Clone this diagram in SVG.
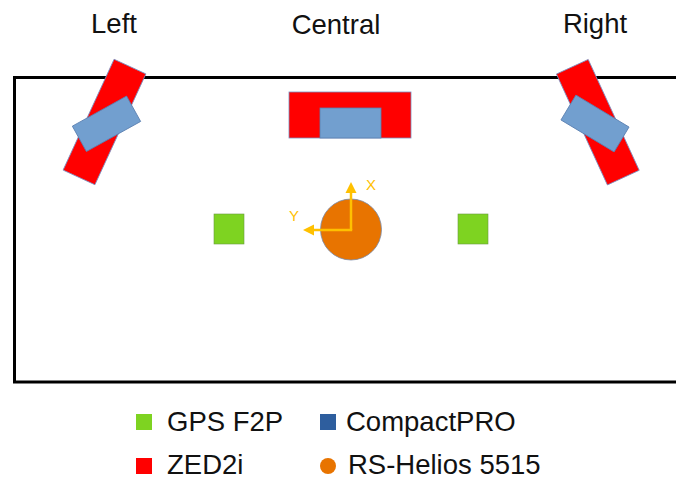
<svg xmlns="http://www.w3.org/2000/svg" width="676" height="481" viewBox="0 0 676 481">
<style>
.t{font-family:"Liberation Sans",Arial,sans-serif;font-size:27.5px;fill:#111}
.ax{font-family:"Liberation Sans",Arial,sans-serif;font-size:15px;fill:#FFC000}
.zed{fill:#FF0000;stroke:#7a8fc0;stroke-width:0.8}
.cp{fill:#729FCF;stroke:#5a7fb0;stroke-width:0.8}
.gps{fill:#7ED321;stroke:#6a9a40;stroke-width:0.6}
.axl{stroke:#FFC000;stroke-width:2.5;fill:none}
</style>
<defs>
<marker id="ah" viewBox="0 0 10 10" refX="2" refY="5" markerWidth="4.5" markerHeight="4.5" orient="auto" markerUnits="strokeWidth">
<path d="M0,0 L10,5 L0,10 Z" fill="#FFC000"/>
</marker>
</defs>
<rect id="frame" x="14.5" y="77.5" width="700" height="304.5" fill="#fff" stroke="#000" stroke-width="3"/>
<g id="titles">
<text class="t" x="114" y="33" text-anchor="middle">Left</text>
<text class="t" x="336" y="34" text-anchor="middle">Central</text>
<text class="t" x="595" y="33" text-anchor="middle">Right</text>
</g>
<g id="left-sensor">
<rect class="zed" x="-17.5" y="-61" width="35" height="122" transform="translate(104.5 122) rotate(24.7)"/>
<rect class="cp" x="-31" y="-14.5" width="62" height="29" transform="translate(106.5 123.8) rotate(-29)"/>
</g>
<g id="central-sensor">
<rect class="zed" x="289" y="92" width="122" height="46"/>
<rect class="cp" x="320" y="108" width="61" height="30"/>
</g>
<g id="right-sensor">
<rect class="zed" x="-17.5" y="-61" width="35" height="122" transform="translate(597.8 122.2) rotate(-24.7)"/>
<rect class="cp" x="-31" y="-14.5" width="62" height="29" transform="translate(595 123.5) rotate(31)"/>
</g>
<g id="gps-left"><rect class="gps" x="214" y="214" width="30" height="30"/></g>
<g id="gps-right"><rect class="gps" x="458" y="214" width="30" height="30"/></g>
<g id="lidar"><circle cx="351" cy="229.5" r="30.5" fill="#E87400" stroke="#7a8aa8" stroke-width="0.8"/></g>
<g id="connectors">
<path class="axl" d="M351,230 L351,191" marker-end="url(#ah)"/>
<path class="axl" d="M352.2,230 L312,230" marker-end="url(#ah)"/>
</g>
<g id="axis-labels">
<text class="ax" x="366" y="190">X</text>
<text class="ax" x="289" y="221">Y</text>
</g>
<g id="legend">
<rect x="136" y="414" width="16" height="16" fill="#7ED321"/>
<text class="t" x="167" y="431">GPS F2P</text>
<rect x="320" y="414" width="16" height="16" fill="#2E5E9E"/>
<text class="t" x="346" y="431">CompactPRO</text>
<rect x="136" y="458" width="16" height="16" fill="#FF0000"/>
<text class="t" x="167" y="474">ZED2i</text>
<circle cx="328" cy="466" r="8" fill="#E87400"/>
<text class="t" x="348" y="474">RS-Helios 5515</text>
</g>
</svg>
